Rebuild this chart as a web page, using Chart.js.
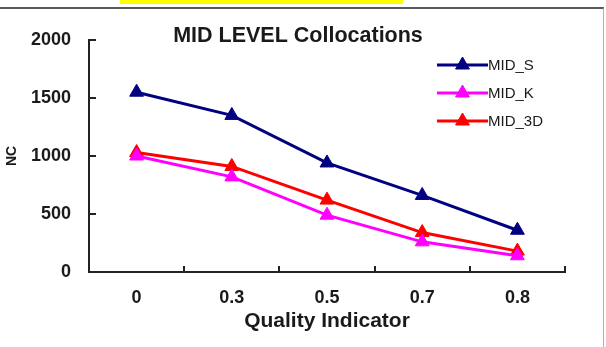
<!DOCTYPE html>
<html>
<head>
<meta charset="utf-8">
<script src="https://cdn.jsdelivr.net/npm/chart.js@4.4.1/dist/chart.umd.min.js"></script>
<style>
  html, body { margin: 0; padding: 0; background: #ffffff; }
  #wrap { position: relative; width: 606px; height: 347px; overflow: hidden; }
  #banner { position: absolute; left: 120px; top: 0; width: 283px; height: 4px; background: #ffff00; }
  #frame { position: absolute; left: 0; top: 7px; width: 604px; height: 345px;
           border-top: 2px solid #5a5a5a; border-right: 1px solid #b0b0b0; box-sizing: border-box; }
  canvas { position: absolute; left: 0; top: 0; }
</style>
</head>
<body>
<div id="wrap">
  <canvas id="chart" width="606" height="347"></canvas>
  <div id="banner"></div>
  <div id="frame"></div>
</div>
<script>
// Quality indicator categories and collocation counts per series
const categories = ['0', '0.3', '0.5', '0.7', '0.8'];
const midS  = [1550, 1350, 940, 660, 360];
const midK  = [1000, 820, 490, 260, 140];
const mid3D = [1030, 910, 620, 340, 180];
const yTicks = [0, 500, 1000, 1500, 2000];

const FONT = '"Liberation Sans", Arial, sans-serif';
const INK = '#1a1a1a';
const MARKER = 8;

function series(label, data, color) {
  return {
    label, data,
    borderColor: color,
    backgroundColor: color,
    borderWidth: 3,
    pointStyle: 'triangle',
    pointRadius: MARKER,
    pointHoverRadius: MARKER,
    pointBorderWidth: 1,
    pointBorderColor: color,
    pointBackgroundColor: color,
    tension: 0,
    fill: false
  };
}

// Small inward tick marks on both axes, plus the chart heading and the line-style legend
const decorations = {
  id: 'decorations',
  afterDraw(chart) {
    const { ctx, chartArea: a, scales: { x, y } } = chart;
    ctx.save();
    ctx.strokeStyle = '#222';
    ctx.lineWidth = 2;
    ctx.beginPath();
    yTicks.forEach(v => {
      const py = Math.round(y.getPixelForValue(v));
      ctx.moveTo(a.left, py);
      ctx.lineTo(a.left + 7, py);
    });
    for (let i = 0; i <= categories.length; i++) {
      const px = Math.round(x.getPixelForValue(i - 0.5));
      ctx.moveTo(px, a.bottom);
      ctx.lineTo(px, a.bottom - 6);
    }
    ctx.stroke();

    // heading
    ctx.fillStyle = INK;
    ctx.font = 'bold 21.5px ' + FONT;
    ctx.textAlign = 'center';
    ctx.textBaseline = 'middle';
    ctx.fillText('MID LEVEL Collocations', 298, 36);

    // legend: line segment with marker, then label
    const x0 = 437, x1 = 488, top = 65, step = 28;
    chart.data.datasets.forEach((ds, i) => {
      const ly = top + i * step;
      ctx.strokeStyle = ds.borderColor;
      ctx.fillStyle = ds.borderColor;
      ctx.lineWidth = 3;
      ctx.beginPath();
      ctx.moveTo(x0, ly);
      ctx.lineTo(x1, ly);
      ctx.stroke();
      ctx.lineWidth = 1;
      Chart.helpers.drawPoint(ctx, {
        pointStyle: 'triangle', radius: MARKER, borderWidth: 1
      }, (x0 + x1) / 2, ly);
      ctx.fillStyle = INK;
      ctx.font = '15px ' + FONT;
      ctx.textAlign = 'left';
      ctx.textBaseline = 'middle';
      ctx.fillText(ds.label, x1, ly + 1);
    });
    ctx.restore();
  }
};

new Chart(document.getElementById('chart'), {
  type: 'line',
  data: {
    labels: categories,
    datasets: [
      series('MID_S', midS, '#000080'),
      series('MID_K', midK, '#ff00ff'),
      series('MID_3D', mid3D, '#ff0000')
    ]
  },
  options: {
    responsive: false,
    animation: false,
    devicePixelRatio: 1,
    layout: { padding: { top: 40, right: 41, bottom: 0, left: 0 } },
    plugins: {
      legend: { display: false },
      title: { display: false },
      tooltip: { enabled: false }
    },
    scales: {
      x: {
        type: 'category',
        offset: true,
        grid: { display: true, drawOnChartArea: false, drawTicks: false, offset: true },
        border: { display: true, color: '#222', width: 2 },
        ticks: { color: INK, font: { family: FONT, size: 18, weight: 'bold' }, padding: 15, maxRotation: 0 },
        title: { display: true, text: 'Quality Indicator', color: INK,
                 font: { family: FONT, size: 21, weight: 'bold' }, padding: { top: 0, bottom: 13 } },
        afterFit(s) { s.height = 75; }
      },
      y: {
        min: 0, max: 2000,
        afterBuildTicks(s) { s.ticks = yTicks.map(v => ({ value: v })); },
        grid: { display: true, drawOnChartArea: false, drawTicks: false },
        border: { display: true, color: '#222', width: 2 },
        ticks: { color: INK, font: { family: FONT, size: 18, weight: 'bold' }, padding: 18,
                 callback: v => String(v) },
        title: { display: true, text: 'NC', color: INK,
                 font: { family: FONT, size: 14, weight: 'bold' }, padding: { top: 4, bottom: 0 } },
        afterFit(s) { s.width = 89; }
      }
    }
  },
  plugins: [decorations]
});
</script>
</body>
</html>
